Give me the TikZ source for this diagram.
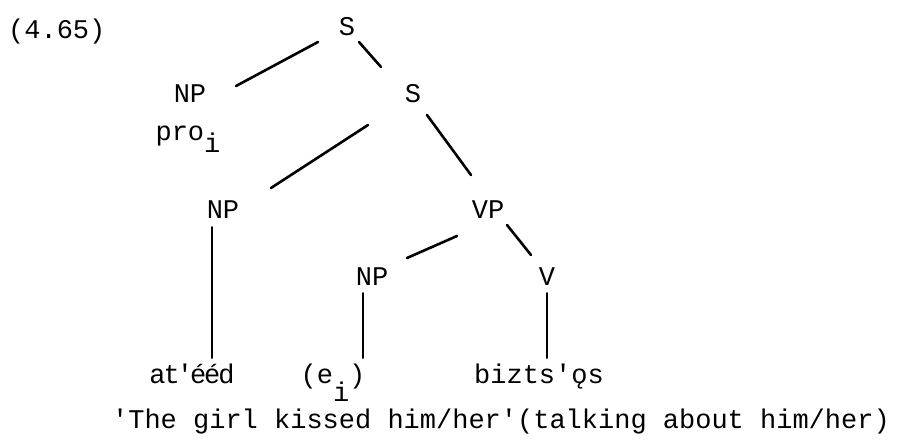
\documentclass[tikz,border=0pt]{standalone}
\usepackage{fontspec}
\setmonofont{Liberation Mono}
\begin{document}
\begin{tikzpicture}[x=1pt,y=-1pt,
  lbl/.style={font=\ttfamily\fontsize{27}{32}\selectfont, inner sep=0pt, anchor=base},
  branch/.style={line width=2.6pt, line cap=round},
  stem/.style={line width=2pt, line cap=round}]
\useasboundingbox (0,0) rectangle (902,439);
\node[lbl, anchor=base west] (ex) at (8,38) {(4.65)};
\node[lbl] (S1) at (347,35) {S};
\node[lbl] (NPa) at (190,102) {NP};
\node[lbl] (pro) at (188,140) {pro\raisebox{-12pt}{i}};
\node[lbl] (S2) at (413,102) {S};
\node[lbl] (NPb) at (223,218) {NP};
\node[lbl] (VP) at (488,218) {VP};
\node[lbl] (NPc) at (372,285) {NP};
\node[lbl] (V) at (547,285) {V};
\node[lbl] (la) at (192,383) {a\kern-2pt t\kern-3pt'\kern-3pt é\kern-2pt é\kern-2pt d};
\node[lbl] (le) at (333,383) {(e\raisebox{-18pt}{i})};
\node[lbl] (lb) at (539,383) {bizts'ǫs};
\node[lbl] (gloss) at (501,428) {'The girl kissed him/her'(talking about him/her)};
\draw[branch] ([shift={(-29,7)}]S1.base) -- ([shift={(46,-16)}]NPa.base);
\draw[branch] ([shift={(12,7)}]S1.base) -- ([shift={(-32,-35)}]S2.base);
\draw[branch] ([shift={(-45,23)}]S2.base) -- ([shift={(48,-30)}]NPb.base);
\draw[branch] ([shift={(14,13)}]S2.base) -- ([shift={(-17,-43)}]VP.base);
\draw[stem] ([shift={(-11,9)}]NPb.base) -- ([shift={(20,-25)}]la.base);
\draw[branch] ([shift={(-31,18)}]VP.base) -- ([shift={(35,-27)}]NPc.base);
\draw[branch] ([shift={(19,7)}]VP.base) -- ([shift={(-16,-30)}]V.base);
\draw[stem] ([shift={(-9,8)}]NPc.base) -- ([shift={(30,-25)}]le.base);
\draw[stem] ([shift={(0,8)}]V.base) -- ([shift={(8,-25)}]lb.base);
\end{tikzpicture}
\end{document}
